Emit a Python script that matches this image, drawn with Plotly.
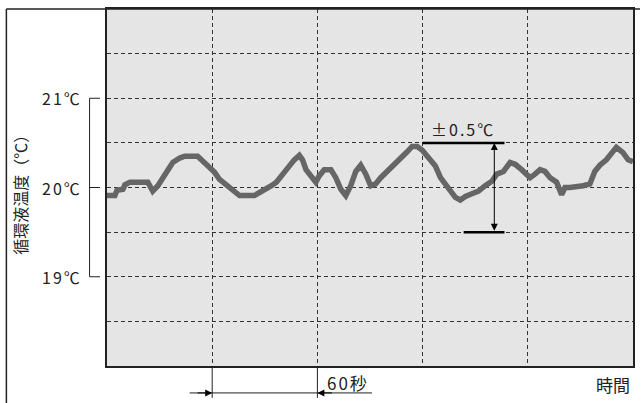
import plotly.graph_objects as go

# ---- data ----
time_s = [0, 4.5, 5.7, 9.1, 10.2, 13.1, 23.3, 26.1, 29.0, 31.8, 34.7, 37.5, 41.5, 44.3,
          51.7, 54.5, 58.5, 61.4, 64.2, 68.2, 71.6, 75.6, 84.1, 86.9, 90.9, 93.8, 96.6,
          100.2, 104.0, 106.8, 109.7, 111.5, 113.5, 116.3, 119.1, 121.0, 123.9, 127.7,
          130.5, 133.4, 136.2, 139.0, 141.9, 144.7, 147.6, 150.4, 153.2, 156.1, 159.8,
          163.6, 167.4, 171.2, 174.0, 176.9, 179.7, 183.5, 187.3, 190.2, 193.9, 195.9,
          198.7, 201.5, 204.4, 208.1, 211.9, 215.7, 219.5, 222.3, 226.1, 229.9, 232.8,
          236.5, 241.3, 244.1, 247.0, 249.8, 252.7, 256.4, 259.3, 261.2, 264.0, 271.6,
          275.4, 278.2, 281.1, 284.8, 287.7, 290.5, 294.3, 297.2, 300]
temp_c = [19.91, 19.91, 19.97, 19.98, 20.03, 20.06, 20.06, 19.96, 20.02, 20.11, 20.19,
          20.28, 20.33, 20.35, 20.35, 20.30, 20.22, 20.17, 20.09, 20.02, 19.98, 19.91,
          19.91, 19.94, 19.98, 20.02, 20.06, 20.15, 20.24, 20.31, 20.36, 20.31, 20.20,
          20.13, 20.06, 20.13, 20.20, 20.20, 20.11, 19.98, 19.91, 20.02, 20.18, 20.25,
          20.15, 20.02, 20.04, 20.11, 20.18, 20.24, 20.31, 20.40, 20.46, 20.46, 20.42,
          20.33, 20.24, 20.11, 20.02, 19.96, 19.89, 19.86, 19.90, 19.93, 19.96, 20.02,
          20.07, 20.15, 20.18, 20.28, 20.26, 20.20, 20.11, 20.15, 20.20, 20.18, 20.11,
          20.06, 19.92, 20.00, 20.00, 20.02, 20.04, 20.18, 20.25, 20.31, 20.39, 20.45,
          20.39, 20.31, 20.29]

y_label_values = [19, 20, 21]
y_label_texts = ["19℃", "20℃", "21℃"]
y_title = "循環液温度（℃）"
x_title = "時間"
interval_label = "60秒"
interval_start, interval_end = 60, 120
band_label = "±0.5℃"
band_low, band_high = 19.5, 20.5

x_range = [0, 300]
y_range = [18, 22]

# ---- layout geometry (pixels) ----
W, H = 642, 403
L, R, T, B = 107, 635, 8, 366
FONT = "Noto Sans CJK JP"
INK = "#222222"


def px_x(px):
    return (px - L) / (R - L)


def px_y(py):
    return (B - py) / (B - T)


def val_y(v):
    return (v - y_range[0]) / (y_range[1] - y_range[0])


def val_x(t):
    return (t - x_range[0]) / (x_range[1] - x_range[0])


def spaced(txt, px):
    return f'<span style="letter-spacing:{px}px">{txt}</span>'


fig = go.Figure()
fig.add_trace(go.Scatter(x=time_s, y=temp_c, mode="lines",
                         line=dict(color="#666666", width=5.5),
                         hoverinfo="skip"))

fig.update_layout(
    width=W, height=H,
    margin=dict(l=L, r=W - R, t=T, b=H - B),
    plot_bgcolor="#e5e5e5", paper_bgcolor="white",
    showlegend=False,
    font=dict(family=FONT, size=15, color=INK),
)
axis_common = dict(showgrid=True, gridcolor="#333333", gridwidth=1, griddash="4px,3px",
                   showticklabels=False, ticks="", zeroline=False,
                   showline=True, linecolor=INK, linewidth=1.5, mirror=True)
fig.update_xaxes(range=x_range, tick0=0, dtick=60, **axis_common)
fig.update_yaxes(range=y_range, tick0=18, dtick=0.5, **axis_common)

shapes = []
# outer frame (left and top)
shapes.append(dict(type="line", xref="paper", yref="paper", x0=px_x(6), x1=px_x(6),
                   y0=1, y1=px_y(H + 2), line=dict(color=INK, width=1.5)))
shapes.append(dict(type="line", xref="paper", yref="paper", x0=px_x(6), x1=px_x(W),
                   y0=1, y1=1, line=dict(color=INK, width=1.5)))
# left bracket
bx = px_x(89.5)
shapes.append(dict(type="line", xref="paper", yref="paper", x0=bx, x1=bx,
                   y0=val_y(min(y_label_values)), y1=val_y(max(y_label_values)),
                   line=dict(color=INK, width=1)))
for v in y_label_values:
    shapes.append(dict(type="line", xref="paper", yref="paper", x0=bx, x1=px_x(100),
                       y0=val_y(v), y1=val_y(v), line=dict(color=INK, width=1)))
# 60 s extension lines and dimension line
for t in (interval_start, interval_end):
    shapes.append(dict(type="line", xref="paper", yref="paper", x0=val_x(t), x1=val_x(t),
                       y0=0, y1=px_y(398), line=dict(color=INK, width=1)))
dim_y = px_y(393)
shapes.append(dict(type="line", xref="paper", yref="paper", x0=px_x(190), x1=px_x(373),
                   y0=dim_y, y1=dim_y, line=dict(color=INK, width=1)))
# +-0.5 band marks
shapes.append(dict(type="line", xref="x", yref="y", x0=180, x1=226.7,
                   y0=band_high, y1=band_high, line=dict(color="black", width=2.5)))
shapes.append(dict(type="line", xref="x", yref="y", x0=203.4, x1=226.7,
                   y0=band_low, y1=band_low, line=dict(color="black", width=2.5)))
fig.update_layout(shapes=shapes)

ann = []
for v, txt in zip(y_label_values, y_label_texts):
    ann.append(dict(xref="paper", yref="paper", x=px_x(84), y=val_y(v), text=spaced(txt, 2),
                    showarrow=False, xanchor="right", yanchor="middle",
                    font=dict(size=16)))
ann.append(dict(xref="paper", yref="paper", x=px_x(20), y=px_y(190), text=y_title,
                textangle=-90, showarrow=False, xanchor="center", yanchor="middle",
                font=dict(size=16)))
ann.append(dict(xref="paper", yref="paper", x=px_x(634), y=px_y(385), text=x_title,
                showarrow=False, xanchor="right", yanchor="middle", font=dict(size=17)))
ann.append(dict(xref="paper", yref="paper", x=px_x(326), y=px_y(383),
                text=spaced(interval_label, 2),
                showarrow=False, xanchor="left", yanchor="middle", font=dict(size=17)))
ann.append(dict(xref="x", yref="y", x=203, y=20.66, text=spaced(band_label, 2),
                showarrow=False, xanchor="center", yanchor="middle", font=dict(size=16)))
# arrowheads of the 60 s dimension
ann.append(dict(xref="paper", yref="paper", x=val_x(interval_start), y=dim_y, text="",
                showarrow=True, ax=-16, ay=0, arrowhead=2, arrowsize=1.4, arrowwidth=1,
                arrowcolor="black"))
ann.append(dict(xref="paper", yref="paper", x=val_x(interval_end), y=dim_y, text="",
                showarrow=True, ax=16, ay=0, arrowhead=2, arrowsize=1.4, arrowwidth=1,
                arrowcolor="black"))
# +-0.5 double arrow
ann.append(dict(xref="x", yref="y", x=220.9, y=band_high, axref="x", ayref="y",
                ax=220.9, ay=band_low, text="", showarrow=True, arrowside="end+start",
                arrowhead=2, arrowsize=1.4, arrowwidth=1, arrowcolor="black"))
fig.update_layout(annotations=ann)

fig.write_html("out.html", config={"displayModeBar": False},
               post_script="document.body.style.margin='0';document.body.style.overflow='hidden';")
